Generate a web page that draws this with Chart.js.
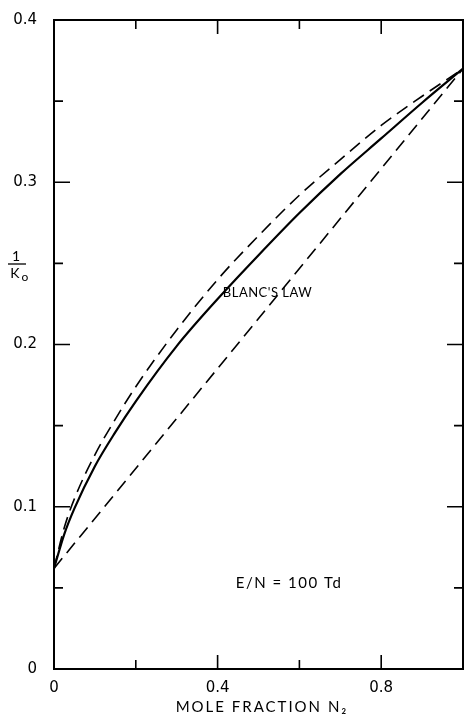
<!DOCTYPE html>
<html>
<head>
<meta charset="utf-8">
<script src="https://cdn.jsdelivr.net/npm/chart.js@4"></script>
<style>
  html, body { margin: 0; background: #fff; overflow: hidden; }
  #wrap { width: 465px; height: 715px; }
</style>
</head>
<body>
<div id="wrap"><canvas id="chart"></canvas></div>
<script>
// mole fraction N2
const molFrac = [0, 0.025, 0.05, 0.1, 0.15, 0.2, 0.3, 0.4, 0.5, 0.6, 0.7, 0.8, 0.9, 1.0]
// measured 1/K0 (solid)
const measured = [0.062, 0.083, 0.099, 0.125, 0.146, 0.165, 0.199, 0.228, 0.255, 0.281, 0.305, 0.327, 0.349, 0.370]
// calculated 1/K0 (upper dashed)
const calculated = [0.062, 0.087, 0.105, 0.132, 0.154, 0.174, 0.209, 0.240, 0.267, 0.292, 0.314, 0.335, 0.353, 0.370]
// Blanc's law (straight dashed)
const blancX = [0, 1.0]
const blancY = [0.062, 0.370]

const xLabels = { 0: "0", 0.4: "0.4", 0.8: "0.8" }
const yLabels = { 0: "0", 0.1: "0.1", 0.2: "0.2", 0.3: "0.3", 0.4: "0.4" }

function pts(xs, ys) {
    return xs.map(function(x, i) { return { x: x, y: ys[i] } })
}

const FONT = "Lato, 'DejaVu Sans', sans-serif"
const TICKFONT = "'DejaVu Sans', sans-serif"

// frame, inward ticks and free text
const paperPlugin = {
    id: "paper",
    afterDraw(chart) {
        const ctx = chart.ctx
        const a = chart.chartArea
        const xs = chart.scales.x
        const ys = chart.scales.y
        ctx.save()
        ctx.strokeStyle = "#000"
        ctx.lineWidth = 2
        ctx.strokeRect(a.left, a.top, a.right - a.left, a.bottom - a.top)

        ctx.lineWidth = 1.6
        ctx.beginPath()
        xs.ticks.forEach(function(t) {
            if (t.value <= 0 || t.value >= 1) return
            let px = xs.getPixelForValue(t.value)
            let major = Math.round(t.value * 10) % 4 === 0
            let len = major ? 14 : 9
            ctx.moveTo(px, a.bottom); ctx.lineTo(px, a.bottom - len)
            ctx.moveTo(px, a.top); ctx.lineTo(px, a.top + len)
        })
        ys.ticks.forEach(function(t) {
            if (t.value <= 0 || t.value >= 0.4) return
            let py = ys.getPixelForValue(t.value)
            let major = Math.round(t.value * 100) % 10 === 0
            let len = major ? 16 : 9
            ctx.moveTo(a.left, py); ctx.lineTo(a.left + len, py)
            ctx.moveTo(a.right, py); ctx.lineTo(a.right - len, py)
        })
        ctx.stroke()

        ctx.fillStyle = "#000"
        ctx.textAlign = "center"
        ctx.textBaseline = "middle"
        ctx.font = "13px " + FONT
        ctx.letterSpacing = "0.5px"
        ctx.fillText("BLANC'S LAW", xs.getPixelForValue(0.522), ys.getPixelForValue(0.232))
        ctx.font = "15px " + FONT
        ctx.letterSpacing = "1.5px"
        ctx.fillText("E/N = 100 Td", xs.getPixelForValue(0.575), ys.getPixelForValue(0.053))

        // x axis title
        ctx.letterSpacing = "2px"
        ctx.fillText("MOLE FRACTION N₂", 262, 707)
        ctx.letterSpacing = "0px"

        // y axis label 1/K0
        ctx.font = "14px " + FONT
        ctx.fillText("1", 16, 256)
        ctx.lineWidth = 1.3
        ctx.beginPath()
        ctx.moveTo(8, 264); ctx.lineTo(26, 264)
        ctx.stroke()
        ctx.fillText("K", 15, 273)
        ctx.font = "12px " + FONT
        ctx.fillText("o", 25, 277)
        ctx.restore()
    }
}

const config = {
    type: "line",
    data: {
        datasets: [{
            label: "measured",
            data: pts(molFrac, measured),
            borderColor: "#000",
            borderWidth: 2.2,
            pointRadius: 0,
            cubicInterpolationMode: "monotone",
            fill: false
        }, {
            label: "calculated",
            data: pts(molFrac, calculated),
            borderColor: "#000",
            borderWidth: 1.6,
            borderDash: [13, 7],
            pointRadius: 0,
            cubicInterpolationMode: "monotone",
            fill: false
        }, {
            label: "Blanc's law",
            data: pts(blancX, blancY),
            borderColor: "#000",
            borderWidth: 1.6,
            borderDash: [13, 7],
            pointRadius: 0,
            fill: false
        }]
    },
    options: {
        responsive: true,
        maintainAspectRatio: false,
        animation: false,
        layout: { padding: { top: 20, right: 2, left: 0, bottom: 0 } },
        plugins: {
            legend: { display: false },
            tooltip: { enabled: false }
        },
        scales: {
            x: {
                type: "linear",
                min: 0,
                max: 1,
                grid: { display: false },
                border: { display: false },
                afterFit(scale) { scale.height = 46 },
                ticks: {
                    stepSize: 0.2,
                    autoSkip: false,
                    maxRotation: 0,
                    padding: 2,
                    color: "#000",
                    font: { family: TICKFONT, size: 15 },
                    callback: function(v) {
                        let k = Math.round(v * 10) / 10
                        return xLabels[k] !== undefined ? xLabels[k] : ""
                    }
                }
            },
            y: {
                type: "linear",
                min: 0,
                max: 0.4,
                grid: { display: false },
                border: { display: false },
                afterFit(scale) { scale.width = 54 },
                ticks: {
                    stepSize: 0.05,
                    autoSkip: false,
                    padding: 9,
                    color: "#000",
                    font: { family: TICKFONT, size: 15 },
                    callback: function(v) {
                        let k = Math.round(v * 100) / 100
                        return yLabels[k] !== undefined ? yLabels[k] : ""
                    }
                }
            }
        }
    },
    plugins: [paperPlugin]
}

const myChart = new Chart(document.getElementById("chart"), config)
</script>
</body>
</html>
